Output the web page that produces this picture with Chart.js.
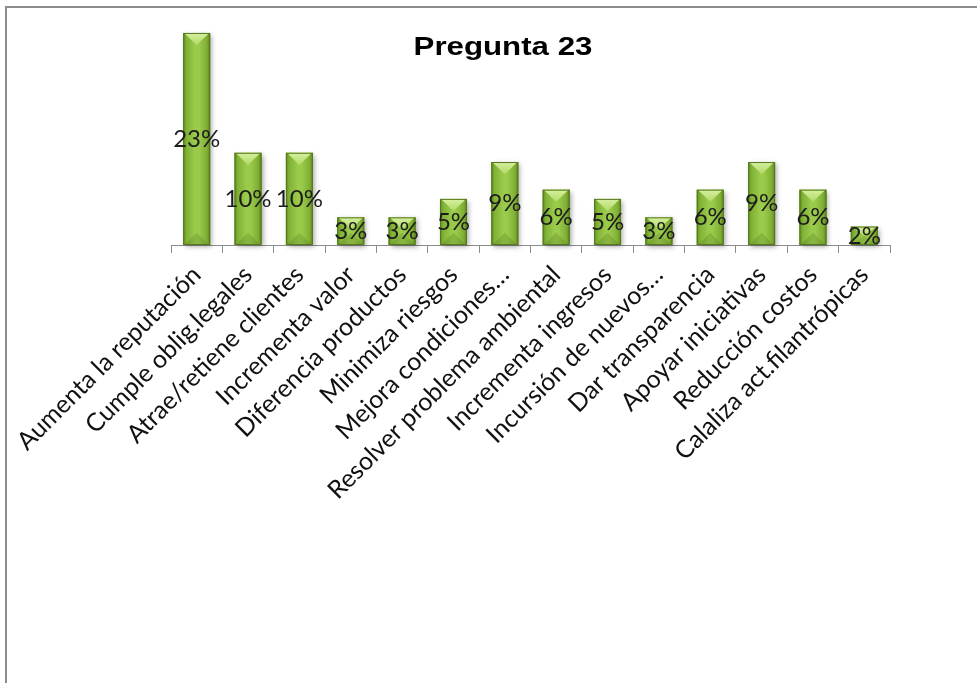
<!DOCTYPE html>
<html>
<head>
<meta charset="utf-8">
<script src="https://cdn.jsdelivr.net/npm/chart.js@4/dist/chart.umd.min.js"></script>
<style>
  html, body { margin: 0; padding: 0; background: #fff; width: 977px; height: 683px; overflow: hidden; }
  #frame { position: absolute; left: 5px; top: 6px; width: 1100px; height: 800px; border: 2px solid #8c8c8c; box-sizing: border-box; }
  #wrap { position: absolute; left: 0; top: 0; width: 977px; height: 683px; }
  #title { position: absolute; left: 303px; top: 32px; width: 400px; text-align: center;
           font: bold 25px "Liberation Sans", Arial, sans-serif; color: #000;
           transform: scaleX(1.25); transform-origin: 50% 50%; }
</style>
</head>
<body>
<div id="frame"></div>
<div id="wrap"><canvas id="c" width="977" height="683"></canvas></div>
<div id="title">Pregunta 23</div>
<script>
// Motivos citados (porcentaje de respuestas)
const categories = [
  "Aumenta la reputación",
  "Cumple oblig.legales",
  "Atrae/retiene clientes",
  "Incrementa valor",
  "Diferencia productos",
  "Minimiza riesgos",
  "Mejora condiciones…",
  "Resolver problema ambiental",
  "Incrementa ingresos",
  "Incursión de nuevos…",
  "Dar transparencia",
  "Apoyar iniciativas",
  "Reducción costos",
  "Calaliza act.filantrópicas"
];
const percentages = [23, 10, 10, 3, 3, 5, 9, 6, 5, 3, 6, 9, 6, 2];
const valueLabels = percentages.map(v => v + "%");

// Bevelled green bars with centred value labels
const barLook = {
  id: "barLook",
  beforeDatasetsDraw(chart) {
    const ctx = chart.ctx;
    ctx.save();
    ctx.shadowColor = "rgba(0,0,0,0.35)";
    ctx.shadowBlur = 5;
    ctx.shadowOffsetX = 2;
    ctx.shadowOffsetY = 2;
  },
  afterDatasetsDraw(chart) {
    const ctx = chart.ctx;
    ctx.restore();
    const meta = chart.getDatasetMeta(0);
    meta.data.forEach((el, i) => {
      const p = el.getProps(["x", "y", "base", "width"], true);
      const l = p.x - p.width / 2, r = p.x + p.width / 2;
      const t = Math.min(p.y, p.base), b = Math.max(p.y, p.base);
      const h = b - t;
      ctx.save();
      // body
      const g = ctx.createLinearGradient(l, 0, r, 0);
      g.addColorStop(0, "#5e8a20");
      g.addColorStop(0.12, "#80b236");
      g.addColorStop(0.45, "#9ccb4c");
      g.addColorStop(0.6, "#9aca4a");
      g.addColorStop(0.88, "#7fae34");
      g.addColorStop(1, "#5a841e");
      ctx.fillStyle = g;
      ctx.fillRect(l, t, p.width, h);
      // top facet
      const d = Math.min(p.width * 0.45, h / 2);
      const gt = ctx.createLinearGradient(0, t, 0, t + d);
      gt.addColorStop(0, "#d6f0a0");
      gt.addColorStop(1, "#b2d968");
      ctx.fillStyle = gt;
      ctx.beginPath();
      ctx.moveTo(l + 1, t);
      ctx.lineTo(r - 1, t);
      ctx.lineTo(p.x, t + d);
      ctx.closePath();
      ctx.fill();
      // bottom facet
      ctx.fillStyle = "rgba(50,80,10,0.18)";
      ctx.beginPath();
      ctx.moveTo(l + 1, b);
      ctx.lineTo(r - 1, b);
      ctx.lineTo(p.x, b - d);
      ctx.closePath();
      ctx.fill();
      // outline
      ctx.strokeStyle = "#56791c";
      ctx.lineWidth = 1;
      ctx.strokeRect(l + 0.5, t + 0.5, p.width - 1, h - 1);
      // value label
      ctx.fillStyle = "#1c1c1c";
      ctx.font = "24px Lato, 'Open Sans', sans-serif";
      ctx.textAlign = "center";
      ctx.textBaseline = "middle";
      ctx.fillText(valueLabels[i], p.x, t + h / 2);
      ctx.restore();
    });
  }
};

new Chart(document.getElementById("c"), {
  type: "bar",
  data: {
    labels: categories,
    datasets: [{
      data: percentages,
      backgroundColor: "#8cbf40",
      borderWidth: 0,
      categoryPercentage: 1,
      barPercentage: 0.525,
      clip: false
    }]
  },
  options: {
    responsive: false,
    animation: false,
    events: [],
    layout: { padding: { left: 171, right: 87, top: 14.5, bottom: 0 } },
    plugins: { legend: { display: false }, tooltip: { enabled: false }, title: { display: false } },
    scales: {
      x: {
        grid: { display: true, drawOnChartArea: false, drawTicks: true, tickLength: 8, color: "#8c8c8c", offset: true },
        border: { display: true, color: "#8c8c8c", width: 1 },
        ticks: {
          autoSkip: false, minRotation: 45, maxRotation: 45, padding: 7,
          color: "#111", font: { family: "Lato", size: 25 }
        },
        afterFit(scale) { scale.height = 438; }
      },
      y: { display: false, min: 0, max: 25 }
    }
  },
  plugins: [barLook]
});
</script>
</body>
</html>
